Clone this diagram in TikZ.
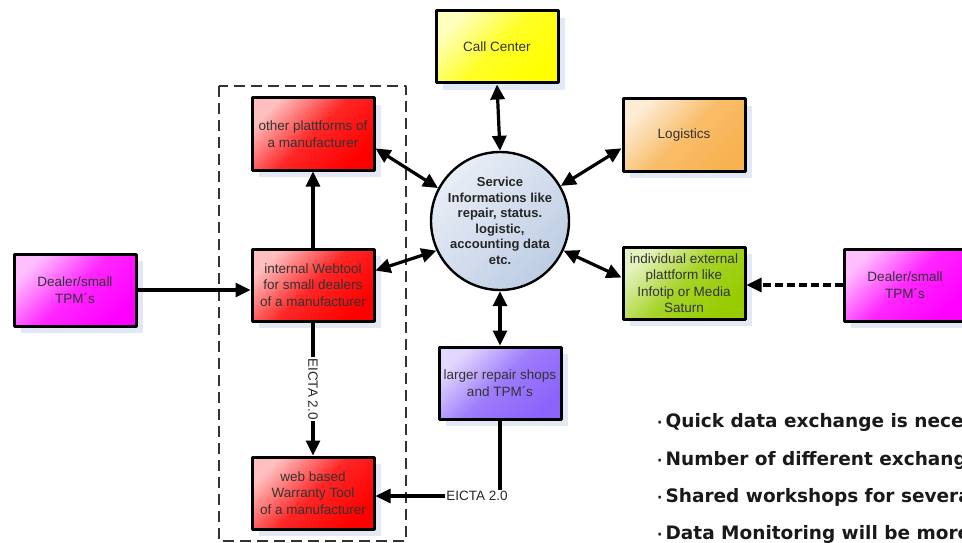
\documentclass[tikz,border=0pt]{standalone}
\usepackage{fontspec}
\setmainfont{Liberation Sans}
\newfontfamily\notefont{DejaVu Sans}
\usetikzlibrary{arrows.meta,shadows}

\definecolor{boxred}{RGB}{255,0,0}
\definecolor{boxpink}{RGB}{255,0,255}
\definecolor{boxyellow}{RGB}{255,255,0}
\definecolor{boxorange}{RGB}{248,178,80}
\definecolor{boxgreen}{RGB}{150,204,0}
\definecolor{boxviolet}{RGB}{140,100,250}
\definecolor{hubblue}{RGB}{190,205,228}
\definecolor{shadowblue}{RGB}{200,210,235}

\tikzset{
  box/.style={draw=black, line width=3pt, minimum width=122pt, minimum height=72pt,
    align=center, inner sep=1pt, text=black!80,
    font=\fontsize{13.5}{16.5}\selectfont,
    top color=#1!25!white, bottom color=#1, middle color=#1!85!white, shading angle=45,
    drop shadow={fill=shadowblue, shadow xshift=7pt, shadow yshift=-7pt}},
  hub/.style={circle, draw=black, line width=2.4pt, minimum size=138pt, inner sep=0pt,
    align=center, text=black!85, font=\bfseries\fontsize{13}{15.5}\selectfont,
    top color=hubblue!35!white, bottom color=hubblue, shading angle=45},
  link/.style={draw=black, line width=3.2pt},
  lab/.style={inner sep=1pt, text=black!85, font=\fontsize{13.5}{14}\selectfont},
  frame/.style={draw=black!80, line width=2pt, dash pattern=on 11pt off 6pt},
  note/.style={anchor=west, inner sep=0pt, text=black!90, font=\notefont\bfseries\fontsize{18.5}{20}\selectfont}
}

\begin{document}
\begin{tikzpicture}[x=1pt, y=-1pt, >={Triangle[length=15pt,width=14pt]}, line join=round]
\clip (0,0) rectangle (962,543);
% manufacturer tools
\draw[frame] (219,86) rectangle (406,541);

\node[hub] (service) at (500,221) {Service\\Informations like\\repair, status.\\logistic,\\accounting data\\etc.};

\node[box=boxred] (other) at (313,134) {other plattforms of\\a manufacturer};
\node[box=boxred] (webtool) at (313,285) {internal Webtool\\for small dealers\\of a manufacturer};
\node[box=boxred] (warranty) at (313,493) {web based\\Warranty Tool\\of a manufacturer};
\node[box=boxpink] (dealerL) at (75,290) {Dealer/small\\TPM´s};
\node[box=boxpink] (dealerR) at (905,285) {Dealer/small\\TPM´s};
\node[box=boxyellow] (call) at (497,47) {Call Center};
\node[box=boxorange] (logistics) at (684,135) {Logistics};
\node[box=boxgreen] (external) at (684,283) {individual external\\plattform like\\Infotip or Media\\Saturn};
\node[box=boxviolet] (repair) at (500,383) {larger repair shops\\and TPM´s};

% exchange with the hub
\draw[link,<->] (call.south) -- (service.north);
\draw[link,<->] (other.-13) -- (service.152);
\draw[link,<->] (webtool.13) -- (service.205);
\draw[link,<->] (logistics.192) -- (service.30);
\draw[link,<->] (external.175) -- (service.-25);
\draw[link,<->] (service.south) -- (repair.north);

\draw[link,->] (webtool.north) -- (other.south);
\draw[link,->] (dealerL.east) -- (dealerL.east -| webtool.west);
\draw[link,->,dash pattern=on 8pt off 4pt] (dealerR.west) -- (dealerR.west -| external.east);
\draw[link,->] (webtool.south) -- node[lab, rotate=-90, fill=white] (eictaA) {EICTA 2.0} (warranty.north);

\node[lab] (eictaB) at (477,496) {EICTA 2.0};
\draw[link] (repair.south) -- (repair.south |- eictaB.north);
\draw[link,->] (eictaB.west) -- (eictaB.west -| warranty.east);

\foreach \y/\txt in {422/Quick data exchange is nece, 460/Number of different exchange,
  497/Shared workshops for severa, 534/Data Monitoring will be more}
  \node[note] (note\y) at (657,\y) {{\fontsize{14}{14}\selectfont·}\,\txt};
\end{tikzpicture}
\end{document}
